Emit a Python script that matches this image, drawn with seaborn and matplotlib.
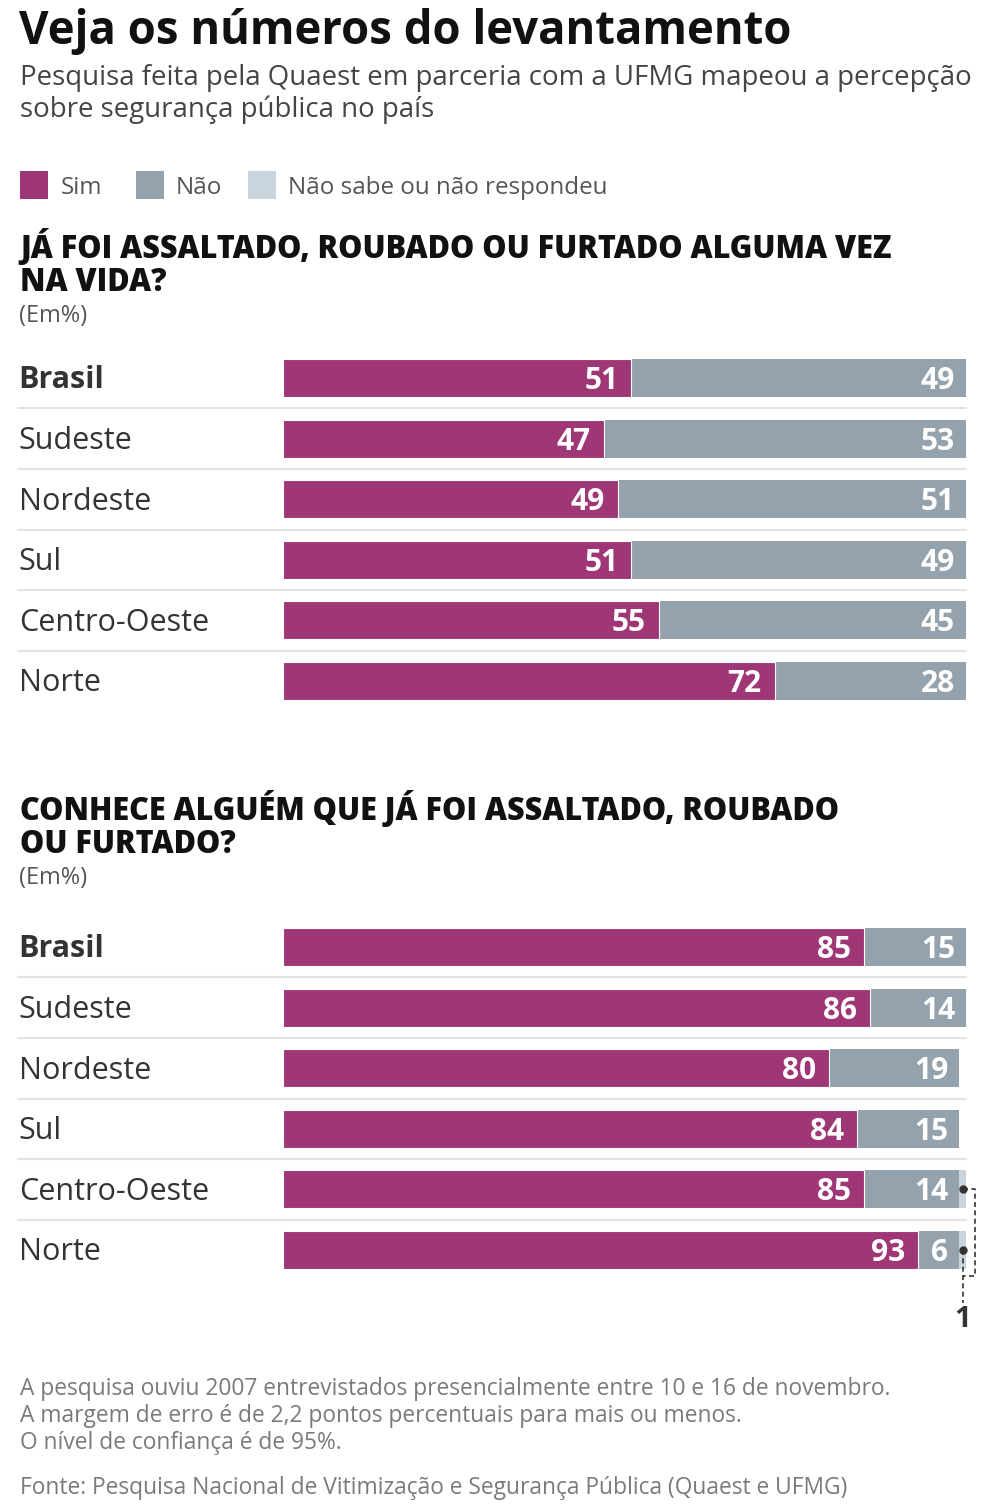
import pandas as pd
import seaborn as sns
import matplotlib.pyplot as plt
from matplotlib.patches import Rectangle

# dados
regioes = ['Brasil', 'Sudeste', 'Nordeste', 'Sul', 'Centro-Oeste', 'Norte']
sim_1 = [51, 47, 49, 51, 55, 72]
nao_1 = [49, 53, 51, 49, 45, 28]
ns_1 = [0, 0, 0, 0, 0, 0]
sim_2 = [85, 86, 80, 84, 85, 93]
nao_2 = [15, 14, 19, 15, 14, 6]
ns_2 = [0, 0, 0, 0, 1, 1]

COR_SIM = '#9f3676'
COR_NAO = '#93a2ac'
COR_NS = '#cad4dc'

sns.set_theme(style='white')
plt.rcParams['font.family'] = ['Open Sans', 'DejaVu Sans']

W, H = 984, 1508
fig = plt.figure(figsize=(W / 100, H / 100), dpi=100)


def px(x, y):
    return x / W, 1 - y / H


def texto(x, y, s, **kw):
    fig.text(*px(x, y), s, **kw)


# cabecalho
texto(19, 44, 'Veja os números do levantamento', fontsize=32.8, fontweight='bold', color='#111111', va='baseline')
texto(20, 85, 'Pesquisa feita pela Quaest em parceria com a UFMG mapeou a percepção', fontsize=19.9, color='#444444', va='baseline')
texto(20, 117, 'sobre segurança pública no país', fontsize=19.9, color='#444444', va='baseline')

# legenda
for x0, cor, x_txt, rotulo in [(20, COR_SIM, 61, 'Sim'), (136, COR_NAO, 176, 'Não'),
                               (248, COR_NS, 288, 'Não sabe ou não respondeu')]:
    fig.add_artist(Rectangle(px(x0, 199), 28 / W, 28 / H, transform=fig.transFigure,
                             facecolor=cor, edgecolor='none'))
    texto(x_txt, 194, rotulo, fontsize=17.4, color='#555555', va='baseline')


def grafico(top_px, titulo1, titulo2, sim, nao, ns, head_y):
    passo = 60.6
    y0 = top_px - passo / 2
    ax = fig.add_axes([283 / W, 1 - (y0 + 6 * passo) / H, 683 / W, 6 * passo / H])
    df = pd.DataFrame({'regiao': regioes, 'sim': sim, 'nao': nao, 'ns': ns})
    df['t2'] = df['sim'] + df['nao']
    df['t3'] = df['t2'] + df['ns']
    sns.barplot(data=df, x='t3', y='regiao', orient='h', color=COR_NS, saturation=1,
                width=0.63, ax=ax, linewidth=0)
    sns.barplot(data=df, x='t2', y='regiao', orient='h', color=COR_NAO, saturation=1,
                width=0.63, ax=ax, linewidth=0)
    sns.barplot(data=df, x='sim', y='regiao', orient='h', color=COR_SIM, saturation=1,
                width=0.63, ax=ax, edgecolor='white', linewidth=0.8)
    ax.set_xlim(0, 100)
    ax.set_ylim(5.5, -0.5)
    ax.set_xlabel('')
    ax.set_ylabel('')
    ax.set_xticks([])
    ax.set_yticks([])
    for s in ax.spines.values():
        s.set_visible(False)

    tr = ax.get_yaxis_transform()
    for i, r in df.iterrows():
        ax.text(-0.387, i + 0.04, r['regiao'], transform=tr, fontsize=22,
                fontweight='bold' if i == 0 else 'normal', color='#333333',
                va='center', ha='left')
        ax.text(r['sim'] - 1.9, i + 0.05, str(r['sim']), fontsize=21.5, fontweight='bold',
                color='white', ha='right', va='center')
        ax.text(r['t2'] - 1.6, i + 0.05, str(r['nao']), fontsize=21.5, fontweight='bold',
                color='white', ha='right', va='center')
    for i in range(5):
        ax.plot([-0.388, 1.0], [i + 0.5, i + 0.5], transform=tr, color='#e3e3e3',
                lw=1.5, clip_on=False)

    texto(20, head_y, titulo1, fontsize=22, fontweight='heavy', color='#111111', va='baseline')
    texto(20, head_y + 33, titulo2, fontsize=22, fontweight='heavy', color='#111111', va='baseline')
    texto(19, head_y + 64, '(Em%)', fontsize=17, color='#555555', va='baseline')
    return ax


grafico(378, 'JÁ FOI ASSALTADO, ROUBADO OU FURTADO ALGUMA VEZ', 'NA VIDA?',
        sim_1, nao_1, ns_1, 258)
ax2 = grafico(947, 'CONHECE ALGUÉM QUE JÁ FOI ASSALTADO, ROUBADO', 'OU FURTADO?',
              sim_2, nao_2, ns_2, 820)

# nota "1" para quem nao sabe
cor_nota = '#333333'
ax2.plot([99.5], [4], 'o', color=cor_nota, ms=5, clip_on=False)
ax2.plot([99.5], [5], 'o', color=cor_nota, ms=5, clip_on=False)
ax2.plot([99.5, 101.3, 101.3, 99.5], [4, 4, 5.43, 5.43], ls=(0, (3, 2)), color=cor_nota,
         lw=1.2, clip_on=False)
ax2.plot([99.5, 99.5], [5, 5.88], ls=(0, (3, 2)), color=cor_nota, lw=1.2, clip_on=False)
ax2.text(99.5, 6.15, '1', fontsize=21, fontweight='bold', color=cor_nota,
         ha='center', va='center')

# rodape
nota = ['A pesquisa ouviu 2007 entrevistados presencialmente entre 10 e 16 de novembro.',
        'A margem de erro é de 2,2 pontos percentuais para mais ou menos.',
        'O nível de confiança é de 95%.']
for k, linha in enumerate(nota):
    texto(20, 1395 + 27 * k, linha, fontsize=16.4, color='#7a7a7a', va='baseline')
texto(20, 1494, 'Fonte: Pesquisa Nacional de Vitimização e Segurança Pública (Quaest e UFMG)',
      fontsize=16.4, color='#7a7a7a', va='baseline')

fig.savefig('out.png', dpi=100, facecolor='white')
